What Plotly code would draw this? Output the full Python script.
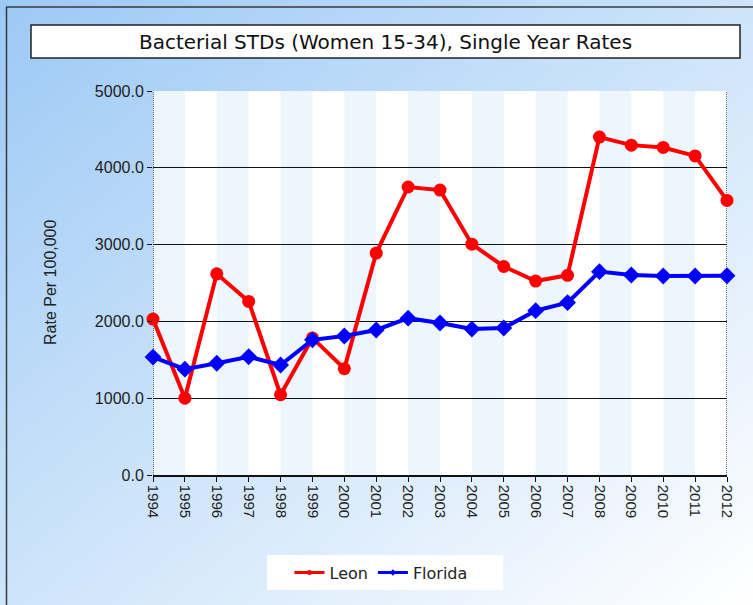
import base64
import plotly.graph_objects as go

# ---- data -------------------------------------------------------------
years = [1994, 1995, 1996, 1997, 1998, 1999, 2000, 2001, 2002, 2003,
         2004, 2005, 2006, 2007, 2008, 2009, 2010, 2011, 2012]
leon = [2030, 1000, 2620, 2260, 1045, 1785, 1385, 2890, 3750, 3710,
        3005, 2715, 2525, 2600, 4400, 4295, 4265, 4155, 3575]
florida = [1535, 1378, 1455, 1540, 1432, 1760, 1810, 1888, 2042, 1980,
           1900, 1915, 2140, 2245, 2648, 2604, 2592, 2592, 2594]
year_labels = [str(y) for y in years]
y_ticks = [0, 1000, 2000, 3000, 4000, 5000]

title_text = "Bacterial STDs (Women 15-34), Single Year Rates"
y_title = "Rate Per 100,000"

# ---- page geometry (pixels) ------------------------------------------
FIG_W, FIG_H = 753, 605
L, R, T, B = 153, 727, 91, 475          # plot area edges
PW, PH = R - L, B - T


def px_x(px):
    return (px - L) / PW


def px_y(py):
    return (B - py) / PH


# diagonal blue-to-white gradient behind the whole chart
grad_svg = (
    f'<svg xmlns="http://www.w3.org/2000/svg" width="{FIG_W}" height="{FIG_H}">'
    '<defs><linearGradient id="g" x1="0" y1="0" x2="1" y2="1">'
    '<stop offset="0" stop-color="#9cc9f5"/>'
    '<stop offset="1" stop-color="#ffffff"/>'
    '</linearGradient></defs>'
    f'<rect width="{FIG_W}" height="{FIG_H}" fill="url(#g)"/></svg>'
)
grad_src = "data:image/svg+xml;base64," + base64.b64encode(grad_svg.encode()).decode()

fig = go.Figure()

fig.add_trace(go.Scatter(
    x=years, y=leon, name="Leon", mode="lines+markers",
    line=dict(color="#ff0000", width=4),
    marker=dict(symbol="circle", size=13, color="#ff0000"),
    cliponaxis=False, showlegend=False,
))
fig.add_trace(go.Scatter(
    x=years, y=florida, name="Florida", mode="lines+markers",
    line=dict(color="#0000ff", width=4),
    marker=dict(symbol="diamond", size=13, color="#0000ff"),
    cliponaxis=False, showlegend=False,
))
# legend entries with small markers
fig.add_trace(go.Scatter(
    x=[None], y=[None], name="Leon", mode="lines+markers",
    line=dict(color="#ff0000", width=3),
    marker=dict(symbol="circle", size=5, color="#ff0000"),
))
fig.add_trace(go.Scatter(
    x=[None], y=[None], name="Florida", mode="lines+markers",
    line=dict(color="#0000ff", width=3),
    marker=dict(symbol="diamond", size=5, color="#0000ff"),
))

shapes = []
# white plot area
shapes.append(dict(type="rect", xref="paper", yref="paper", x0=0, x1=1, y0=0, y1=1,
                   fillcolor="white", line=dict(width=0), layer="below"))
# light vertical bands on alternate year intervals
for i in range(0, len(years) - 1, 2):
    shapes.append(dict(type="rect", xref="x", yref="paper",
                       x0=years[i], x1=years[i + 1], y0=0, y1=1,
                       fillcolor="#edf5fd", line=dict(width=0), layer="below"))
# dotted side borders of the plot
for xv in (years[0], years[-1]):
    shapes.append(dict(type="line", xref="x", yref="y",
                       x0=xv, x1=xv, y0=y_ticks[0], y1=y_ticks[-1],
                       line=dict(color="#000000", width=1.2, dash="1px,1px"), layer="below"))
# outer frame
shapes.append(dict(type="line", xref="paper", yref="paper",
                   x0=px_x(6), x1=px_x(760), y0=px_y(7), y1=px_y(7),
                   line=dict(color="#3a3a3a", width=1.5)))
shapes.append(dict(type="line", xref="paper", yref="paper",
                   x0=px_x(6.5), x1=px_x(6.5), y0=px_y(7), y1=px_y(610),
                   line=dict(color="#3a3a3a", width=1.5)))
# title box
shapes.append(dict(type="rect", xref="paper", yref="paper",
                   x0=px_x(31), x1=px_x(740), y0=px_y(58), y1=px_y(25),
                   fillcolor="white", line=dict(color="#222222", width=1.5)))
# legend box
shapes.append(dict(type="rect", xref="paper", yref="paper",
                   x0=px_x(267), x1=px_x(503), y0=px_y(590), y1=px_y(555),
                   fillcolor="white", line=dict(width=0)))

fig.update_layout(
    width=FIG_W, height=FIG_H,
    margin=dict(l=L, r=FIG_W - R, t=T, b=FIG_H - B, pad=0),
    paper_bgcolor="white", plot_bgcolor="rgba(0,0,0,0)",
    showlegend=True,
    images=[dict(source=grad_src, xref="paper", yref="paper",
                 x=px_x(0), y=px_y(0), sizex=FIG_W / PW, sizey=FIG_H / PH,
                 xanchor="left", yanchor="top", sizing="stretch", layer="below")],
    shapes=shapes,
    annotations=[
        dict(text=title_text, xref="paper", yref="paper",
             x=px_x(385), y=px_y(41.5), xanchor="center", yanchor="middle",
             showarrow=False, font=dict(family="DejaVu Sans", size=20, color="#111111")),
        dict(text=y_title, xref="paper", yref="paper",
             x=px_x(50), y=px_y(282), xanchor="center", yanchor="middle",
             textangle=-90, showarrow=False,
             font=dict(family="Liberation Sans", size=16, color="#222222")),
    ],
    legend=dict(orientation="h", x=px_x(381), y=px_y(572.5),
                xanchor="center", yanchor="middle",
                bgcolor="rgba(0,0,0,0)", borderwidth=0,
                font=dict(family="DejaVu Sans", size=16, color="#222222"),
                itemwidth=30, tracegroupgap=0),
    xaxis=dict(range=[years[0], years[-1]], tickmode="array",
               tickvals=years, ticktext=year_labels, tickangle=90,
               showgrid=False, zeroline=False,
               showline=True, linecolor="#111111", linewidth=1.5,
               ticks="outside", ticklen=5, tickcolor="#111111",
               tickfont=dict(family="Liberation Sans", size=15, color="#222222")),
    yaxis=dict(range=[y_ticks[0], y_ticks[-1]], tickmode="array",
               tickvals=y_ticks, tickformat=".1f",
               showgrid=True, gridcolor="#111111", gridwidth=1,
               zeroline=False, showline=False,
               ticks="outside", ticklen=5, tickcolor="#111111",
               tickfont=dict(family="Liberation Sans", size=16, color="#222222")),
)

fig.write_html("out.html")
